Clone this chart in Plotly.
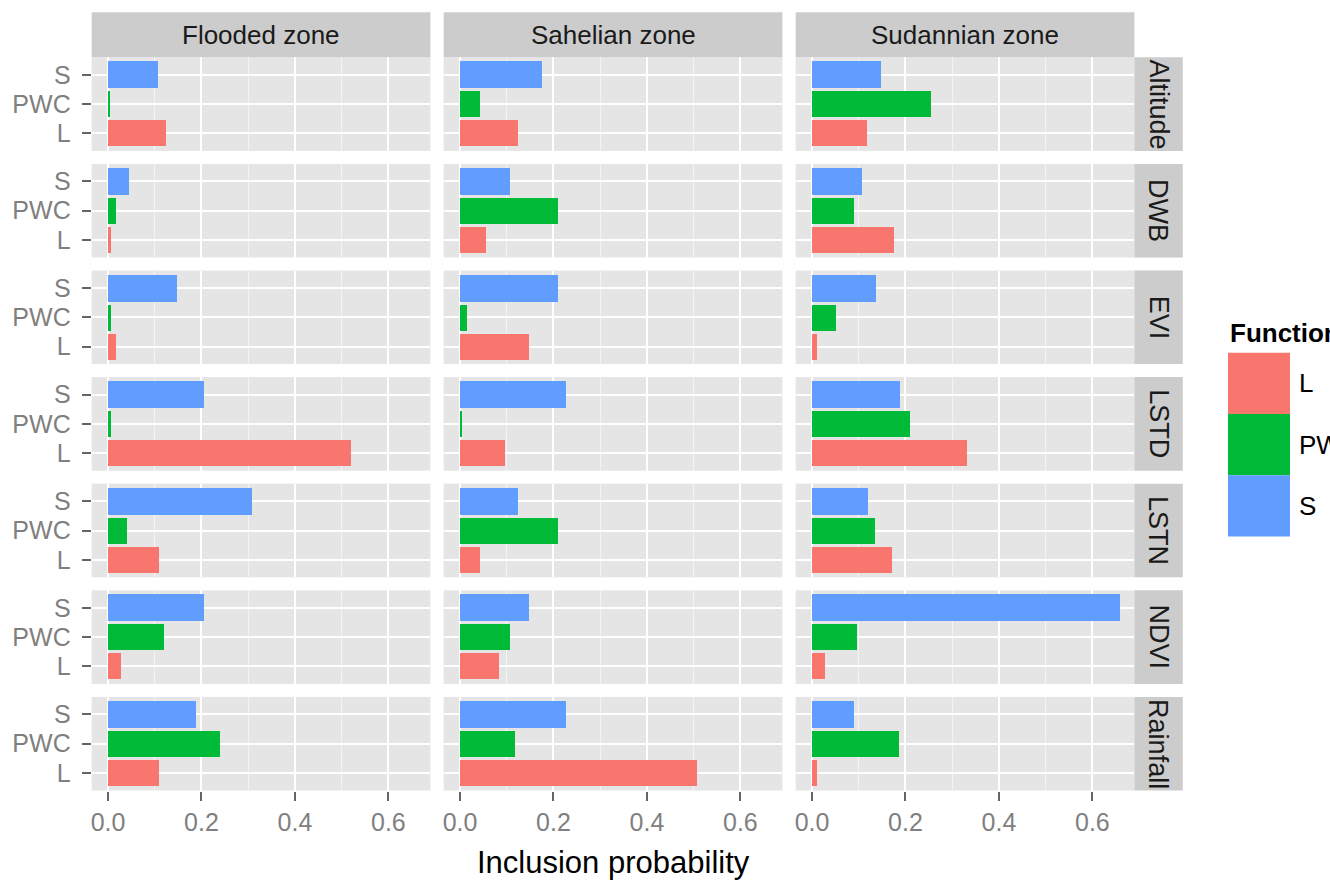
import plotly.graph_objects as go

# ---- data -------------------------------------------------------------
zones = ["Flooded zone", "Sahelian zone", "Sudannian zone"]
covariates = ["Altitude", "DWB", "EVI", "LSTD", "LSTN", "NDVI", "Rainfall"]
functions = ["L", "PWC", "S"]
x_ticks = [0.0, 0.2, 0.4, 0.6]

# inclusion probabilities, one list per function (ordered as covariates)
flooded_L = [0.123, 0.005, 0.016, 0.519, 0.108, 0.028, 0.108]
flooded_PWC = [0.004, 0.016, 0.005, 0.005, 0.039, 0.119, 0.239]
flooded_S = [0.107, 0.045, 0.148, 0.205, 0.307, 0.205, 0.188]

sahelian_L = [0.123, 0.055, 0.146, 0.095, 0.043, 0.083, 0.506]
sahelian_PWC = [0.043, 0.209, 0.015, 0.004, 0.209, 0.106, 0.118]
sahelian_S = [0.175, 0.106, 0.209, 0.226, 0.123, 0.146, 0.226]

sudannian_L = [0.118, 0.175, 0.010, 0.330, 0.170, 0.026, 0.009]
sudannian_PWC = [0.255, 0.090, 0.051, 0.210, 0.135, 0.095, 0.186]
sudannian_S = [0.146, 0.106, 0.136, 0.187, 0.120, 0.658, 0.090]

zone_values = {
    "Flooded zone": {"L": flooded_L, "PWC": flooded_PWC, "S": flooded_S},
    "Sahelian zone": {"L": sahelian_L, "PWC": sahelian_PWC, "S": sahelian_S},
    "Sudannian zone": {"L": sudannian_L, "PWC": sudannian_PWC, "S": sudannian_S},
}
colors = {"L": "#F8766D", "PWC": "#00BA38", "S": "#619CFF"}

# ---- layout geometry (pixels) -----------------------------------------
W, H = 1330, 882
col_left, col_w, col_gap = 91.7, 338.7, 13.3
row_top, row_h, row_gap = 57.3, 93.6, 13.0
strip_top = 12.3
strip_right_w = 48.4
FONT = "Liberation Sans, Arial, sans-serif"


def fx(p):
    return p / W


def fy(p):
    return 1 - p / H


fig = go.Figure()
layout = {}
shapes = []
annotations = []

n_rows, n_cols = len(covariates), len(zones)
for r, cov in enumerate(covariates):
    y0 = row_top + r * (row_h + row_gap)
    y1 = y0 + row_h
    for c, zone in enumerate(zones):
        x0 = col_left + c * (col_w + col_gap)
        x1 = x0 + col_w
        k = r * n_cols + c + 1
        sfx = "" if k == 1 else str(k)
        fig.add_trace(go.Bar(
            x=[zone_values[zone][f][r] for f in functions],
            y=functions,
            orientation="h",
            width=0.9,
            marker=dict(color=[colors[f] for f in functions], line=dict(width=0)),
            showlegend=False,
            xaxis="x" + sfx, yaxis="y" + sfx,
        ))
        bottom = r == n_rows - 1
        left = c == 0
        layout["xaxis" + sfx] = dict(
            domain=[fx(x0), fx(x1)], anchor="y" + sfx,
            range=[-0.035, 0.69], tickvals=x_ticks,
            ticktext=[f"{v:.1f}" for v in x_ticks],
            showticklabels=bottom, ticks="outside" if bottom else "",
            ticklen=9, tickwidth=2, tickcolor="#666666",
            tickfont=dict(family=FONT, size=25, color="#7F7F7F"),
            showgrid=True, gridcolor="#FFFFFF", gridwidth=2,
            minor=dict(dtick=0.1, tick0=0, showgrid=True,
                       gridcolor="#F4F4F4", gridwidth=1),
            zeroline=False, showline=False, fixedrange=True,
        )
        layout["yaxis" + sfx] = dict(
            domain=[fy(y1), fy(y0)], anchor="x" + sfx,
            type="category", categoryorder="array", categoryarray=functions,
            range=[-0.6, 2.6], tickmode="linear", tick0=0, dtick=1,
            showticklabels=left, ticks="outside" if left else "",
            ticklen=9, tickwidth=2, tickcolor="#666666",
            ticklabelstandoff=6,
            tickfont=dict(family=FONT, size=25, color="#7F7F7F"),
            showgrid=True, gridcolor="#FFFFFF", gridwidth=2,
            zeroline=False, showline=False, fixedrange=True,
        )

# column strips
for c, zone in enumerate(zones):
    x0 = col_left + c * (col_w + col_gap)
    x1 = x0 + col_w
    shapes.append(dict(type="rect", xref="paper", yref="paper",
                       x0=fx(x0), x1=fx(x1), y0=fy(row_top), y1=fy(strip_top),
                       fillcolor="#CCCCCC", line=dict(width=0), layer="below"))
    annotations.append(dict(text=zone, xref="paper", yref="paper",
                            x=fx((x0 + x1) / 2), y=fy((strip_top + row_top) / 2),
                            showarrow=False, xanchor="center", yanchor="middle",
                            font=dict(family=FONT, size=26, color="#1A1A1A")))

# row strips
sx0 = col_left + n_cols * col_w + (n_cols - 1) * col_gap
sx1 = sx0 + strip_right_w
for r, cov in enumerate(covariates):
    y0 = row_top + r * (row_h + row_gap)
    y1 = y0 + row_h
    shapes.append(dict(type="rect", xref="paper", yref="paper",
                       x0=fx(sx0), x1=fx(sx1), y0=fy(y1), y1=fy(y0),
                       fillcolor="#CCCCCC", line=dict(width=0), layer="below"))
    annotations.append(dict(text=cov, xref="paper", yref="paper",
                            x=fx((sx0 + sx1) / 2), y=fy((y0 + y1) / 2),
                            showarrow=False, textangle=90,
                            xanchor="center", yanchor="middle",
                            font=dict(family=FONT, size=27, color="#1A1A1A")))

# axis title
plot_right = sx0
annotations.append(dict(text="Inclusion probability", xref="paper", yref="paper",
                        x=fx((col_left + plot_right) / 2), y=fy(862),
                        showarrow=False, xanchor="center", yanchor="middle",
                        font=dict(family=FONT, size=31, color="#000000")))

# legend: title, colour keys and labels (running off the right edge)
leg_x0, leg_x1 = 1228, 1290
key_top, key_h = 352.7, 61.3
annotations.append(dict(text="<b>Function</b>", xref="paper", yref="paper",
                        x=fx(leg_x0), y=fy(333), showarrow=False,
                        xanchor="left", yanchor="middle",
                        font=dict(family=FONT, size=26, color="#000000")))
for i, f in enumerate(functions):
    ky0 = key_top + i * key_h
    shapes.append(dict(type="rect", xref="paper", yref="paper",
                       x0=fx(leg_x0), x1=fx(leg_x1), y0=fy(ky0 + key_h), y1=fy(ky0),
                       fillcolor=colors[f], line=dict(width=0)))
    annotations.append(dict(text=f, xref="paper", yref="paper",
                            x=fx(leg_x1 + 7), y=fy(ky0 + key_h / 2),
                            showarrow=False, xanchor="left", yanchor="middle",
                            font=dict(family=FONT, size=26, color="#000000")))

fig.update_layout(
    width=W, height=H, autosize=False,
    margin=dict(l=0, r=0, t=0, b=0),
    paper_bgcolor="#FFFFFF", plot_bgcolor="#E5E5E5",
    bargap=0, shapes=shapes, annotations=annotations,
    **layout,
)

fig.write_html("out.html")
